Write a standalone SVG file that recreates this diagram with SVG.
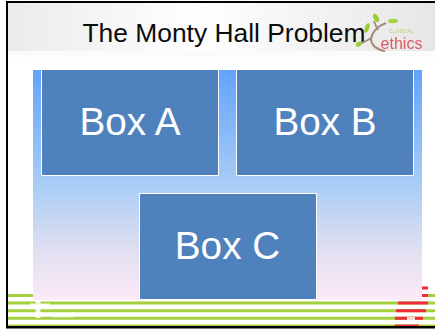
<svg xmlns="http://www.w3.org/2000/svg" width="435" height="329" viewBox="0 0 435 329">
<style>
.box{fill:#4f81bd;stroke:#fff;stroke-width:1}
.lbl{font-family:"Liberation Sans",Arial,sans-serif;font-size:38.700px;fill:#fff;text-anchor:middle}
.g{stroke:#a4d03c;stroke-width:3;fill:none}
.r{stroke:#ee2c3a;stroke-width:3;fill:none}
</style>
<defs>
<linearGradient id="bg" x1="0" y1="0" x2="0" y2="1"><stop offset="0" stop-color="#62a3ff"/><stop offset="0.5" stop-color="#a9cdf5"/><stop offset="0.8" stop-color="#e3e0f1"/><stop offset="1" stop-color="#fdeaf7"/></linearGradient>
<linearGradient id="hd" x1="0" y1="0" x2="1" y2="0"><stop offset="0" stop-color="#ebebeb"/><stop offset="0.45" stop-color="#ffffff"/><stop offset="1" stop-color="#e6e6e6"/></linearGradient>
<filter id="soft" x="-5%" y="-5%" width="110%" height="110%"><feGaussianBlur stdDeviation="0.5"/></filter>
</defs>
<rect width="435" height="329" fill="#fff"/>
<rect x="8" y="3" width="427" height="48" fill="url(#hd)"/>
<rect x="8" y="51" width="427" height="6" fill="#fbfbfb"/>
<rect x="33" y="70" width="389" height="230" fill="url(#bg)"/>
<g id="footer" filter="url(#soft)">
<path class="g" d="M8 295.500H33M428 295.500H435M8 303H435M8 310.800H435M8 318.300H435"/>
<path d="M8 325.300H435" stroke="#a4d03c" stroke-width="1.500"/>
<path class="r" d="M398 303H428M396 310.800H426M395 318.300H423M422 288H428M422 295.500H428"/>
<path d="M395 325.300H419" stroke="#ee2c3a" stroke-width="1.500"/>
<path d="M30 306H50M38 300V318" stroke="#fff" stroke-width="5" opacity=".85"/>
<path d="M50 307H88M52 316H74" stroke="#fff" stroke-width="3" opacity=".45"/>
<rect x="407" y="317" width="8" height="3" fill="#fff" opacity=".8"/>
</g>
<g id="title"><text x="224" y="42" font-family="Liberation Sans,Arial,sans-serif" font-size="26.400" fill="#0c0c0c" text-anchor="middle">The Monty Hall Problem</text></g>
<g id="logo" filter="url(#soft)">
<path d="M386 23C378 26 372 32 371 39C371 45 377 50 385 51M378 30C376 26 375 24 374 21M361 43C365 42 368 40 371 38" stroke="#a68a7c" stroke-width="2" fill="none"/>
<ellipse cx="376" cy="18" rx="2.500" ry="4.500" fill="#9ccc35" transform="rotate(-30 376 18)"/>
<ellipse cx="393" cy="21" rx="5" ry="2.200" fill="#a9d240"/>
<ellipse cx="367" cy="28" rx="2.200" ry="5" fill="#9ccc35" transform="rotate(20 367 28)"/>
<ellipse cx="359" cy="44" rx="3.500" ry="2.200" fill="#9ccc35" transform="rotate(-30 359 44)"/>
<text x="401" y="33" font-family="Liberation Sans,Arial,sans-serif" font-size="5.500" fill="#b9d77a" text-anchor="middle">CLINICAL</text>
<text x="401.500" y="49" font-family="Liberation Sans,Arial,sans-serif" font-size="16" fill="#dc5a64" text-anchor="middle">ethics</text>
</g>
<g id="box-a"><rect class="box" x="41.500" y="69.500" width="177" height="106"/><text class="lbl" x="130" y="135">Box A</text></g>
<g id="box-b"><rect class="box" x="236.500" y="69.500" width="177" height="106"/><text class="lbl" x="325" y="135">Box B</text></g>
<g id="box-c"><rect class="box" x="139.500" y="193.500" width="177" height="106"/><text class="lbl" x="227.500" y="259">Box C</text></g>
<g id="frame"><path d="M6 1H435V3H8V326H435V328.500H6Z" fill="#000"/></g>
</svg>
